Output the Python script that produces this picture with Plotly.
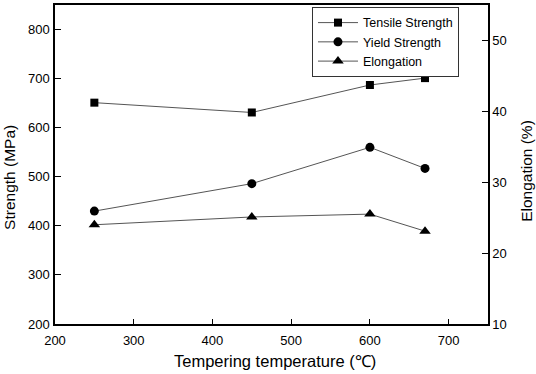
import plotly.graph_objects as go

temperature = [250, 450, 600, 670]
tensile_strength = [651, 631, 687, 701]
yield_strength = [430, 486, 560, 517]
elongation = [24.0, 25.1, 25.5, 23.1]

x_ticks = [200, 300, 400, 500, 600, 700]
left_ticks = [200, 300, 400, 500, 600, 700, 800]
right_ticks = [10, 20, 30, 40, 50]

FONT = "Liberation Sans, Arial, sans-serif"
LINE_COLOR = "#555555"

fig = go.Figure()
fig.add_trace(go.Scatter(
    x=temperature, y=tensile_strength, name="Tensile Strength",
    mode="lines+markers",
    line=dict(color=LINE_COLOR, width=1),
    marker=dict(symbol="square", size=8, color="black"),
    yaxis="y"))
fig.add_trace(go.Scatter(
    x=temperature, y=yield_strength, name="Yield Strength",
    mode="lines+markers",
    line=dict(color=LINE_COLOR, width=1),
    marker=dict(symbol="circle", size=9, color="black"),
    yaxis="y"))
fig.add_trace(go.Scatter(
    x=temperature, y=elongation, name="Elongation",
    mode="lines+markers",
    line=dict(color=LINE_COLOR, width=1),
    marker=dict(symbol="triangle-up", size=10, color="black"),
    yaxis="y2"))

axis_common = dict(
    showline=True, linecolor="black", linewidth=1.5,
    ticks="inside", tickcolor="black", tickwidth=1.3,
    showgrid=False, zeroline=False,
    tickfont=dict(family=FONT, size=13, color="black"),
)

fig.update_layout(
    width=536, height=374,
    margin=dict(l=55, r=48, t=3, b=50),
    paper_bgcolor="white", plot_bgcolor="white",
    font=dict(family=FONT, color="black"),
    xaxis=dict(range=[200, 750], tickvals=x_ticks, ticklen=5, mirror=True,
               ticklabelstandoff=4, **axis_common),
    yaxis=dict(range=[200, 850], tickvals=left_ticks, ticklen=6,
               ticklabelstandoff=1, **axis_common),
    yaxis2=dict(range=[10, 55], tickvals=right_ticks, ticklen=6,
                overlaying="y", side="right", **axis_common),
    showlegend=True,
    legend=dict(
        x=0.5935, y=0.9938, xanchor="left", yanchor="top",
        bgcolor="white", bordercolor="#333333", borderwidth=1,
        font=dict(family=FONT, size=12.5, color="black"),
        itemwidth=40, tracegroupgap=0, entrywidth=171,
    ),
    annotations=[
        dict(text="Tempering temperature (℃)", xref="paper", yref="paper",
             x=0.508, y=-0.115, xanchor="center", yanchor="middle",
             showarrow=False, font=dict(family=FONT, size=16.5, color="black")),
        dict(text="Strength (MPa)", xref="paper", yref="paper",
             x=-0.104, y=0.461, xanchor="center", yanchor="middle",
             textangle=-90, showarrow=False,
             font=dict(family=FONT, size=15.5, color="black")),
        dict(text="Elongation (%)", xref="paper", yref="paper",
             x=1.09, y=0.48, xanchor="center", yanchor="middle",
             textangle=-90, showarrow=False,
             font=dict(family=FONT, size=15.5, color="black")),
    ],
)

fig.write_html(
    "out.html",
    config={"displayModeBar": False},
    post_script="document.body.style.margin='0';document.body.style.overflow='hidden';",
)
